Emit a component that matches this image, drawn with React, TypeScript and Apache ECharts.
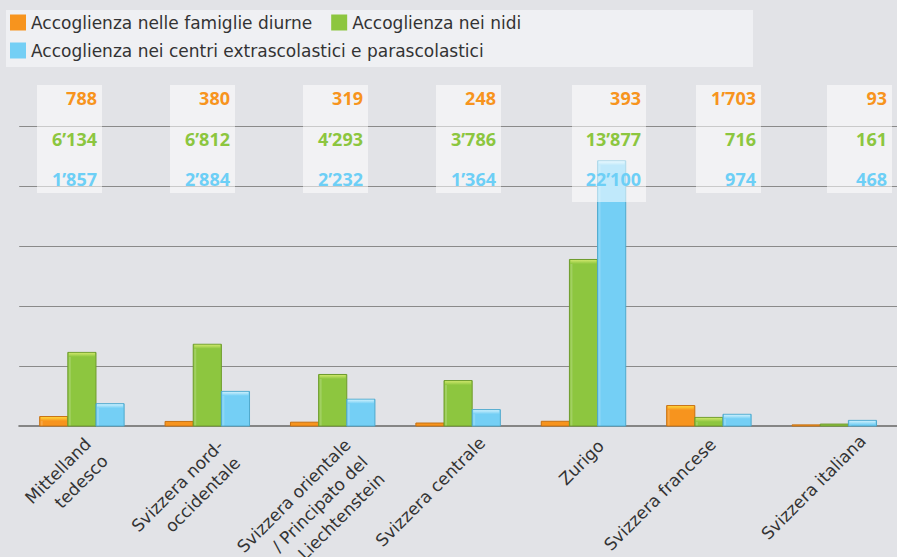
import React, { useEffect, useRef } from "react";
import * as echarts from "echarts";

// ---- data ----
const categories = [
  "Mittelland\ntedesco",
  "Svizzera nord-\noccidentale",
  "Svizzera orientale\n/ Principato del\nLiechtenstein",
  "Svizzera centrale",
  "Zurigo",
  "Svizzera francese",
  "Svizzera italiana",
];
const seriesNames = [
  "Accoglienza nelle famiglie diurne",
  "Accoglienza nei nidi",
  "Accoglienza nei centri extrascolastici e parascolastici",
];
const famiglieDiurne = [788, 380, 319, 248, 393, 1703, 93];
const nidi = [6134, 6812, 4293, 3786, 13877, 716, 161];
const extrascolastici = [1857, 2884, 2232, 1364, 22100, 974, 468];
const yTicks = [0, 5000, 10000, 15000, 20000, 25000];

// ---- styles / layout ----
const BG = "#e2e3e7";
const FILLS = ["#f7941e", "#8dc63f", "#74cff5"];
const TOPS = ["#ffd53a", "#cde66a", "#cbeffc"];
const STROKES = ["#c87212", "#6e9b2c", "#4fa9cd"];
const TEXT_COLORS = ["#f7941d", "#8cc63f", "#6dcff6"];
const BAR_FRACTION = 0.2245;
const GRID_LEFT = 19.2;
const GRID_WIDTH = 883.2;
const GRID_TOP = 126;
const GRID_HEIGHT = 300;
// per-label nudges (screen px) of the rotated category labels
const labelDx = [-2.5, 4.5, 6.5, 15.5, 9, -4.5, 20];
const labelDy = [6.5, 8.5, 7.5, 5.5, 8.5, 7, 3.5];
const boxRight = [102, 235, 368, 501, 646, 761, 892];
const boxWidth = [65, 65, 65, 65, 74, 65, 65];
const boxHeight = [108, 108, 108, 108, 117, 108, 108];
const BOX_TOP = 85;
const ROW_Y = [97.5, 138.5, 178.5];

const fmt = (n: number) =>
  n >= 1000 ? `${Math.floor(n / 1000)}’${String(n % 1000).padStart(3, "0")}` : String(n);

function makeRenderer(k: number) {
  return (_params: any, api: any) => {
    const cat = api.value(0);
    const v = api.value(1);
    const pTop = api.coord([cat, v]);
    const pBase = api.coord([cat, 0]);
    const band = api.size([1, 0])[0];
    const w = band * BAR_FRACTION;
    const x = pTop[0] + (k - 1.5) * w;
    const y = pTop[1];
    const h = pBase[1] - pTop[1];
    const children: any[] = [
      {
        type: "rect",
        shape: { x, y, width: w, height: h },
        style: { fill: FILLS[k], stroke: STROKES[k], lineWidth: 1 },
      },
    ];
    if (h > 5) {
      children.push({
        type: "rect",
        shape: { x: x + 1, y: y + 0.5, width: w - 2, height: 4 },
        style: {
          fill: new echarts.graphic.LinearGradient(0, 0, 0, 1, [
            { offset: 0, color: TOPS[k] },
            { offset: 1, color: FILLS[k] },
          ]),
        },
      });
      children.push({
        type: "rect",
        shape: { x: x + 1, y: y + 4.5, width: 2, height: h - 5 },
        style: { fill: "rgba(255,255,255,0.18)" },
      });
    }
    return { type: "group", children };
  };
}

function renderCategoryLabel(params: any, api: any) {
  const i = params.dataIndex;
  const p = api.coord([api.value(0), 0]);
  return {
    type: "text",
    x: p[0] + labelDx[i],
    y: p[1] + labelDy[i],
    rotation: Math.PI / 4,
    style: {
      text: categories[i],
      x: 0,
      y: 0,
      align: "right",
      verticalAlign: "top",
      font: '17px "DejaVu Sans"',
      lineHeight: 24,
      fill: "#333333",
    },
  };
}

export default function App() {
  const ref = useRef<HTMLDivElement>(null);
  useEffect(() => {
    if (!ref.current) return;
    const chart = echarts.init(ref.current, null, { renderer: "svg" });
    const allSeries = [famiglieDiurne, nidi, extrascolastici];

    const graphics: any[] = [
      {
        type: "rect",
        z: 0,
        shape: { x: 6, y: 10, width: 747, height: 57 },
        style: { fill: "#eff0f3" },
      },
    ];
    categories.forEach((_c, i) => {
      graphics.push({
        type: "rect",
        z: 50,
        shape: { x: boxRight[i] - boxWidth[i], y: BOX_TOP, width: boxWidth[i], height: boxHeight[i] },
        style: { fill: "rgba(255,255,255,0.55)" },
      });
      allSeries.forEach((arr, k) => {
        graphics.push({
          type: "text",
          z: 51,
          x: boxRight[i] - 5,
          y: ROW_Y[k],
          style: {
            text: fmt(arr[i]),
            fill: TEXT_COLORS[k],
            font: 'bold 18px "Open Sans"',
            align: "right",
            verticalAlign: "middle",
          },
        });
      });
    });

    const legendText = {
      fontFamily: "DejaVu Sans",
      fontSize: 17,
      color: "#333333",
    };

    chart.setOption({
      animation: false,
      backgroundColor: BG,
      legend: [
        {
          data: [seriesNames[0], seriesNames[1]],
          left: 10,
          top: 14,
          padding: 0,
          itemWidth: 16,
          itemHeight: 16,
          itemGap: 19,
          icon: "rect",
          textStyle: legendText,
          z: 5,
        },
        {
          data: [seriesNames[2]],
          left: 10,
          top: 42,
          padding: 0,
          itemWidth: 16,
          itemHeight: 16,
          itemGap: 19,
          icon: "rect",
          textStyle: legendText,
          z: 5,
        },
      ],
      grid: { left: GRID_LEFT, top: GRID_TOP, width: GRID_WIDTH, height: GRID_HEIGHT },
      xAxis: {
        type: "category",
        data: categories,
        axisLine: { show: true, lineStyle: { color: "#858585", width: 2 } },
        axisTick: { show: false },
        axisLabel: { show: false },
        splitLine: { show: false },
      },
      yAxis: {
        type: "value",
        min: yTicks[0],
        max: yTicks[yTicks.length - 1],
        interval: yTicks[1] - yTicks[0],
        axisLabel: { show: false },
        axisLine: { show: false },
        axisTick: { show: false },
        splitLine: { lineStyle: { color: "#8a8a8a", width: 1 } },
      },
      series: [
        ...allSeries.map((arr, k) => ({
          type: "custom",
          name: seriesNames[k],
          itemStyle: { color: FILLS[k] },
          encode: { x: 0, y: 1 },
          data: arr.map((v, i) => [i, v]),
          renderItem: makeRenderer(k),
          z: 2,
        })),
        {
          type: "custom",
          name: "labels",
          silent: true,
          clip: false,
          encode: { x: 0, y: 1 },
          data: categories.map((_c, i) => [i, 0]),
          renderItem: renderCategoryLabel,
          z: 3,
        },
      ],
      graphic: graphics,
    });
    return () => chart.dispose();
  }, []);
  return (
    <div
      ref={ref}
      style={{ position: "fixed", left: 0, top: 0, width: 897, height: 557 }}
    />
  );
}
